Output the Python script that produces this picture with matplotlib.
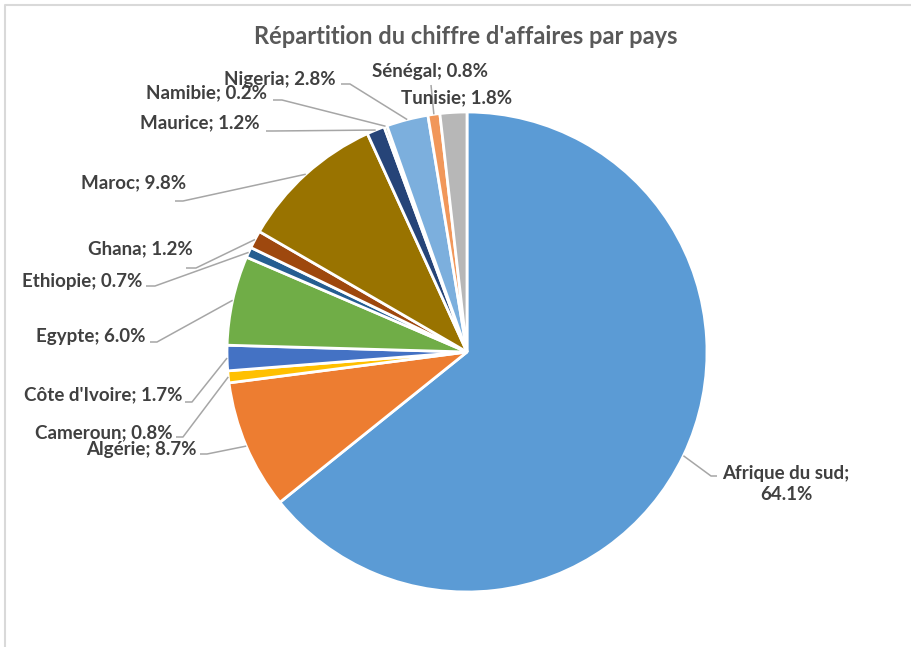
import matplotlib
matplotlib.use('Agg')
import matplotlib.pyplot as plt
import numpy as np

# data
pays = ['Afrique du sud', 'Algérie', 'Cameroun', "Côte d'Ivoire", 'Egypte',
        'Ethiopie', 'Ghana', 'Maroc', 'Maurice', 'Namibie', 'Nigeria',
        'Sénégal', 'Tunisie']
parts = [64.1, 8.7, 0.8, 1.7, 6.0, 0.7, 1.2, 9.8, 1.2, 0.2, 2.8, 0.8, 1.8]
couleurs = ['#5B9BD5', '#ED7D31', '#FFC000', '#4472C4', '#70AD47', '#255E91',
            '#9E480E', '#997300', '#264478', '#43682B', '#7CAFDD', '#F1975A',
            '#B7B7B7']

# layout in pixels (x from left, y from top), centre and radius of the pie
CX, CY, R = 467, 352, 240
W, H = 912, 647

# label position, alignment, leader points (before the wedge edge point)
label_pos = [(786, 484), (197, 450), (173, 433), (182, 395), (145, 337),
             (142, 282), (193, 249), (186, 183), (260, 123), (267, 93),
             (336, 79), (430, 72), (457, 98)]
label_ha = ['center', 'right', 'right', 'right', 'right', 'right', 'right',
            'right', 'right', 'right', 'right', 'center', 'center']
leaders = [[(717, 476), (711, 476)], [(200, 454), (207, 454)],
           [(176, 437), (183, 437)], [(185, 402), (192, 402)],
           [(150, 342), (157, 342)], [(146, 286), (155, 286)],
           [(186, 268), (196, 268)], [(175, 201), (183, 201)],
           [(266, 131), (273, 131)], [(273, 100), (282, 100)],
           [(341, 84), (350, 84)], [(431, 85)], []]


def px(x, y):
    # pixel -> data coords (pie radius = 1)
    return (x - CX) / R, (CY - y) / R


plt.rcParams['font.family'] = ['Lato', 'DejaVu Sans']

fig = plt.figure(figsize=(W / 100, H / 100), dpi=100)
ax = fig.add_axes([0, 0, 1, 1])

wedges, _ = ax.pie(parts, colors=couleurs, startangle=90, counterclock=False,
                   radius=1, wedgeprops=dict(edgecolor='white', linewidth=2))

ax.set_xlim(-CX / R, (W - CX) / R)
ax.set_ylim(-(H - CY) / R, CY / R)
ax.set_aspect('auto')
ax.axis('off')

for i, w in enumerate(wedges):
    mid = np.deg2rad((w.theta1 + w.theta2) / 2)
    txt = pays[i] + '; ' + f'{parts[i]:.1f}%'
    if i == 0:
        txt = pays[i] + ';\n' + f'{parts[i]:.1f}%'
    tx, ty = px(*label_pos[i])
    ax.text(tx, ty, txt, ha=label_ha[i], va='center', fontsize=13.5,
            fontweight='bold', color='#404040', multialignment='center',
            linespacing=1.35)
    if leaders[i]:
        pts = [px(*p) for p in leaders[i]]
        pts.append((np.cos(mid), np.sin(mid)))
        xs, ys = zip(*pts)
        ax.plot(xs, ys, color='#A6A6A6', lw=1.1, solid_capstyle='butt')

# title
tx, ty = px(466, 37)
ax.text(tx, ty, "Répartition du chiffre d'affaires par pays", ha='center',
        va='center', fontsize=17, fontweight='bold', color='#595959')

# chart area border (cropped on right and bottom)
bx = [px(5, H + 5)[0], px(5, 5)[0], px(W + 5, 5)[0]]
by = [px(5, H + 5)[1], px(5, 5)[1], px(W + 5, 5)[1]]
ax.plot(bx, by, color='#D9D9D9', lw=1.5, clip_on=False)

fig.savefig('out.png', dpi=100)
